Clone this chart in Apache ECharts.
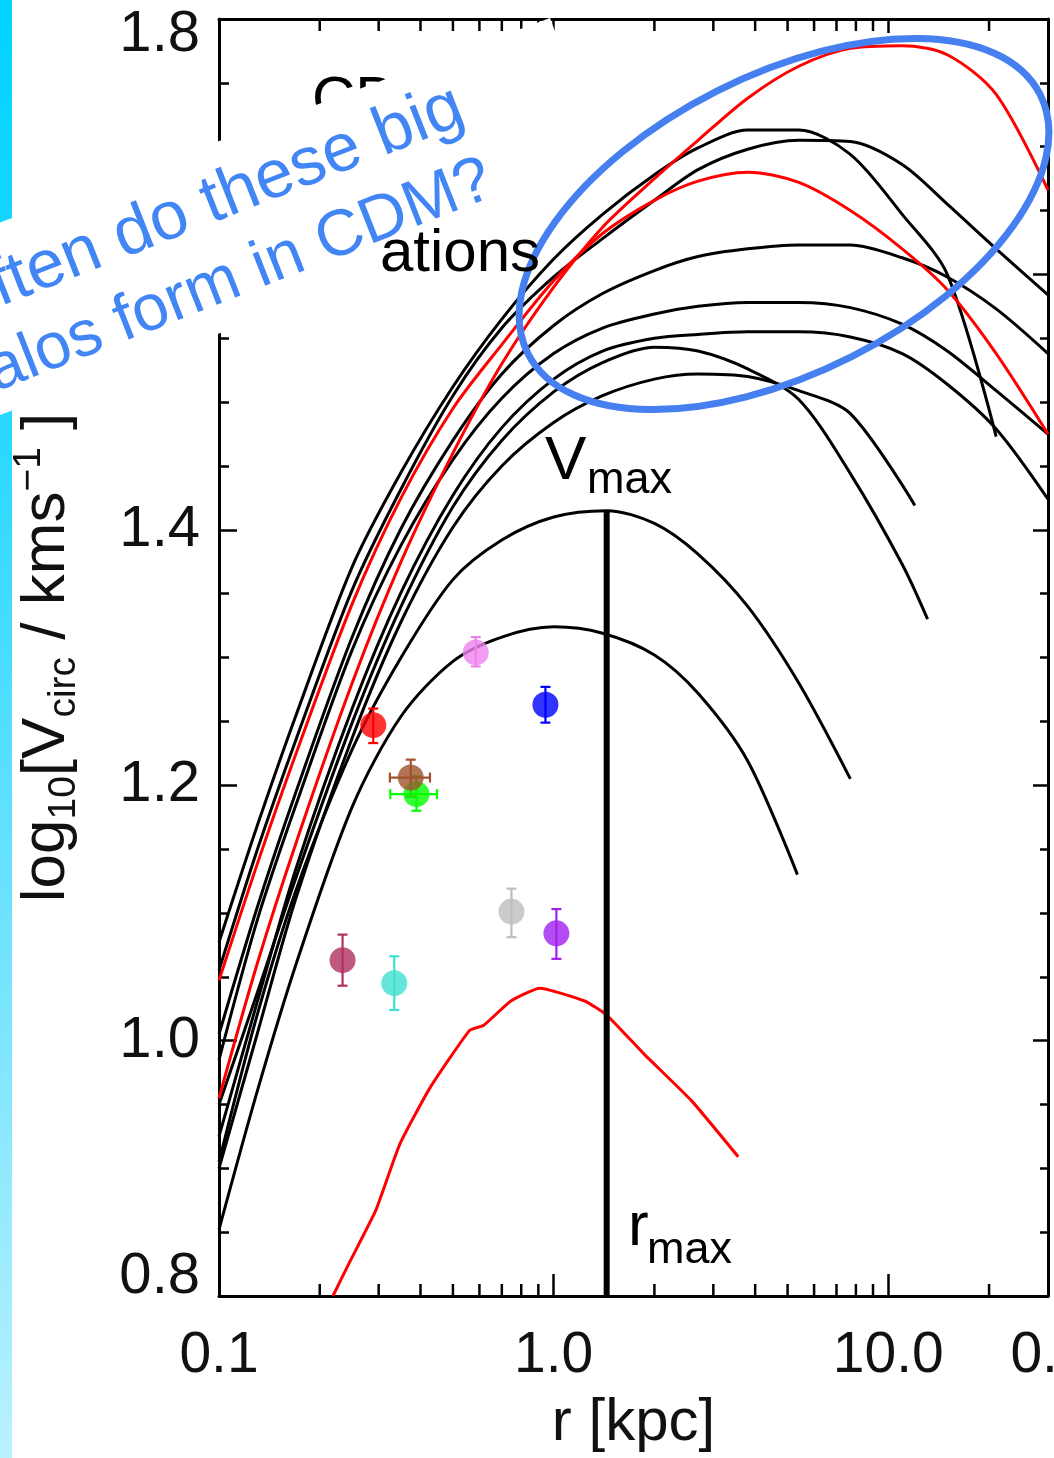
<!DOCTYPE html>
<html>
<head>
<meta charset="utf-8">
<script src="https://cdn.jsdelivr.net/npm/echarts@6/dist/echarts.min.js"></script>
<style>
  html, body { margin: 0; padding: 0; background: #fff; overflow: hidden; }
  #chart { width: 1054px; height: 1458px; }
</style>
</head>
<body>
<div id="chart"></div>
<script>
// Circular-velocity profiles of massive subhaloes: [r (kpc), log10 Vcirc (km/s)]
const haloK1 = [[0.1,1.077],[0.13,1.168],[0.17,1.255],[0.25,1.371],[0.35,1.445],[0.5,1.512],[0.7,1.565],[1.0,1.612],[1.4,1.647],[2.0,1.678],[2.7,1.699],[3.8,1.713],[5.4,1.713],[7.7,1.694],[11,1.647],[15,1.600],[21,1.473]];
const haloK2 = [[0.1,1.055],[0.13,1.149],[0.17,1.236],[0.25,1.353],[0.35,1.432],[0.5,1.505],[0.7,1.558],[1.0,1.598],[1.4,1.628],[2.0,1.658],[2.7,1.682],[3.8,1.698],[5.4,1.705],[7.7,1.704],[11,1.686],[15,1.655],[21,1.620],[30,1.584]];
const haloK3 = [[0.1,1.005],[0.13,1.104],[0.17,1.195],[0.25,1.316],[0.35,1.401],[0.5,1.470],[0.7,1.522],[1.0,1.560],[1.4,1.585],[2.0,1.603],[2.7,1.614],[3.8,1.620],[5.4,1.623],[7.7,1.623],[11,1.613],[15,1.598],[21,1.573],[30,1.538]];
const haloK4 = [[0.1,0.985],[0.13,1.094],[0.17,1.185],[0.25,1.306],[0.35,1.388],[0.5,1.455],[0.7,1.503],[1.0,1.538],[1.4,1.558],[2.0,1.569],[2.7,1.575],[3.8,1.578],[5.4,1.578],[7.7,1.574],[11,1.561],[15,1.540],[21,1.509],[30,1.475]];
const haloK5 = [[0.1,0.925],[0.13,1.030],[0.17,1.135],[0.25,1.260],[0.35,1.351],[0.5,1.427],[0.7,1.480],[1.0,1.518],[1.4,1.540],[2.0,1.550],[2.7,1.553],[3.8,1.555],[5.4,1.555],[7.7,1.551],[11,1.538],[15,1.514],[21,1.479],[30,1.424]];
const haloK6 = [[0.1,0.950],[0.13,1.037],[0.17,1.128],[0.25,1.249],[0.35,1.340],[0.5,1.418],[0.7,1.470],[1.0,1.508],[1.4,1.531],[2.0,1.543],[2.7,1.540],[3.8,1.526],[5.4,1.502],[7.7,1.444],[11,1.373],[13.1,1.330]];
const haloK7 = [[0.1,0.900],[0.13,1.005],[0.17,1.112],[0.25,1.237],[0.35,1.328],[0.5,1.402],[0.7,1.450],[1.0,1.484],[1.4,1.505],[2.0,1.518],[2.7,1.522],[3.8,1.520],[5.4,1.509],[7.7,1.491],[12,1.419]];
const haloB1 = [[0.1,0.905],[0.13,1.020],[0.17,1.118],[0.25,1.228],[0.35,1.300],[0.5,1.361],[0.7,1.392],[1.0,1.410],[1.44,1.415],[2.0,1.405],[2.7,1.381],[3.8,1.340],[5.4,1.280],[7.7,1.205]];
const haloB2 = [[0.1,0.852],[0.13,0.960],[0.17,1.060],[0.25,1.183],[0.35,1.254],[0.5,1.297],[0.7,1.316],[1.0,1.324],[1.4,1.319],[2.0,1.302],[2.7,1.272],[3.8,1.219],[5.35,1.130]];
const haloR1 = [[0.1,0.955],[0.13,1.060],[0.17,1.155],[0.25,1.280],[0.35,1.375],[0.5,1.460],[0.7,1.530],[1.0,1.590],[1.4,1.637],[2.0,1.675],[2.7,1.705],[3.8,1.738],[5.4,1.763],[7.7,1.777],[11,1.779],[15,1.772],[21,1.741],[30,1.666]];
const haloR2 = [[0.1,1.047],[0.13,1.138],[0.17,1.225],[0.25,1.342],[0.35,1.425],[0.5,1.495],[0.7,1.545],[1.0,1.595],[1.4,1.632],[2.0,1.658],[2.7,1.673],[3.8,1.680],[5.4,1.672],[7.7,1.650],[11,1.620],[15,1.588],[21,1.538],[30,1.475]];
const haloR3 = [[0.219,0.800],[0.244,0.825],[0.294,0.867],[0.347,0.919],[0.427,0.963],[0.561,1.008],[0.618,1.012],[0.745,1.031],[0.908,1.041],[1.237,1.031],[1.44,1.020],[1.87,0.989],[2.58,0.953],[3.56,0.909]];

const blackHaloes = [haloK1, haloK2, haloK3, haloK4, haloK5, haloK6, haloK7, haloB1, haloB2];
const redHaloes = [haloR1, haloR2, haloR3];

// Vmax / rmax of the marked halo
const markedRmax = 1.44;
const markedVmax = 1.415;

// Dwarf spheroidal measurements (half-light radius, log10 Vcirc, errors)
const dwarfR   = [0.234, 0.334, 0.289, 0.389, 0.374, 0.585, 0.945, 0.748, 1.019];
const dwarfV   = [1.063, 1.045, 1.247, 1.193, 1.206, 1.304, 1.263, 1.101, 1.084];
const dwarfVLo = [1.043, 1.024, 1.233, 1.180, 1.191, 1.293, 1.249, 1.081, 1.064];
const dwarfVHi = [1.083, 1.066, 1.260, 1.207, 1.220, 1.316, 1.277, 1.119, 1.103];
const dwarfRLo = [null, null, null, 0.325, 0.324, null, null, null, null];
const dwarfRHi = [null, null, null, 0.448, 0.427, null, null, null, null];
const dwarfColors = ['#b03060', '#40e0d0', '#ff0000', '#00ff00', '#a0522d', '#ee82ee', '#0000ff', '#bebebe', '#a020f0'];

// Axis settings
const rMin = 0.1, rMax = 30;
const vMin = 0.8, vMax = 1.8, vStep = 0.2;
const rLabelled = [0.1, 1, 10];
const rMinorTicks = [0.2,0.3,0.4,0.5,0.6,0.7,0.8,0.9,2,3,4,5,6,7,8,9,20];

const FONT = '"Liberation Sans", Arial, Helvetica, sans-serif';
const chart = echarts.init(document.getElementById('chart'), null, { renderer: 'canvas', width: 1054, height: 1458 });

const curveSeries = [];
blackHaloes.forEach(d => curveSeries.push({
  type: 'line', data: d, symbol: 'none', smooth: 0.3, silent: true, z: 2,
  lineStyle: { color: '#000', width: 3 }
}));
redHaloes.forEach((d, i) => curveSeries.push({
  type: 'line', data: d, symbol: 'none', smooth: i === 2 ? 0.15 : 0.3, silent: true, z: 2,
  lineStyle: { color: '#ff0000', width: 3 }
}));

const dwarfData = dwarfR.map((r, i) => ({
  value: [r, dwarfV[i], dwarfVLo[i], dwarfVHi[i], dwarfRLo[i] == null ? r : dwarfRLo[i], dwarfRHi[i] == null ? r : dwarfRHi[i]],
  itemStyle: { color: dwarfColors[i] }
}));

function isLabelled(v) {
  return rLabelled.some(t => Math.abs(Math.log10(v) - Math.log10(t)) < 1e-6);
}

const option = {
  animation: false,
  backgroundColor: '#fff',
  grid: { left: 219, right: 6, top: 19, bottom: 159, containLabel: false },
  xAxis: [
    {
      type: 'log', logBase: 10, min: rMin, max: rMax, position: 'bottom',
      axisLine: { lineStyle: { color: '#000', width: 3 } },
      axisTick: { inside: true, length: 22, lineStyle: { color: '#000', width: 2.5 } },
      splitLine: { show: false },
      axisLabel: {
        margin: 32, fontSize: 57, fontFamily: FONT, color: '#111',
        formatter: v => isLabelled(v) ? Number(v).toFixed(1) : ''
      },
      name: 'r [kpc]', nameLocation: 'middle', nameGap: 97,
      nameTextStyle: { fontSize: 60, fontFamily: FONT, color: '#111' }
    },
    {
      type: 'log', logBase: 10, min: rMin, max: rMax, position: 'top',
      axisLine: { lineStyle: { color: '#000', width: 3 } },
      axisTick: { inside: true, length: 14, lineStyle: { color: '#000', width: 2.5 } },
      splitLine: { show: false }, axisLabel: { show: false }
    }
  ],
  yAxis: [
    {
      type: 'value', min: vMin, max: vMax, interval: vStep, position: 'left',
      axisLine: { show: true, lineStyle: { color: '#000', width: 3 } },
      axisTick: { show: true, inside: true, length: 18, lineStyle: { color: '#000', width: 2.5 } },
      minorTick: { show: true, splitNumber: 4, length: 10, lineStyle: { color: '#000', width: 2.5 } },
      splitLine: { show: false }, minorSplitLine: { show: false },
      axisLabel: {
        margin: 19, fontSize: 58, fontFamily: FONT, color: '#111',
        formatter: v => {
          const s = v.toFixed(1);
          if (Math.abs(v - vMax) < 1e-6) return '{hi|' + s + '}';
          if (Math.abs(v - vMin) < 1e-6) return '{lo|' + s + '}';
          return s;
        },
        rich: {
          hi: { fontSize: 58, fontFamily: FONT, color: '#111', padding: [32, 0, 0, 0] },
          lo: { fontSize: 58, fontFamily: FONT, color: '#111', padding: [0, 0, 38, 0] }
        }
      },
      name: '{n|log}{s|10}{n|[V}{s|circ}{n| / kms}{p|\u22121}{n| ]}',
      nameLocation: 'middle', nameGap: 135, nameRotate: 90,
      nameTextStyle: {
        color: '#111', fontFamily: FONT,
        rich: {
          n: { fontSize: 62, fontFamily: FONT, color: '#111', lineHeight: 74 },
          s: { fontSize: 39, fontFamily: FONT, color: '#111', verticalAlign: 'bottom', lineHeight: 34 },
          p: { fontSize: 39, fontFamily: FONT, color: '#111', verticalAlign: 'top', lineHeight: 30 }
        }
      }
    },
    {
      type: 'value', min: vMin, max: vMax, interval: vStep, position: 'right',
      axisLine: { show: true, lineStyle: { color: '#000', width: 3 } },
      axisTick: { show: true, inside: true, length: 15, lineStyle: { color: '#000', width: 2.5 } },
      minorTick: { show: true, splitNumber: 4, length: 8, lineStyle: { color: '#000', width: 2.5 } },
      splitLine: { show: false }, axisLabel: { show: false }
    }
  ],
  series: [
    // minor decade ticks of the log axis, bottom and top
    {
      type: 'custom', silent: true, z: 0, clip: false,
      data: rMinorTicks.map(v => [v, vMin]),
      renderItem: (params, api) => {
        const pb = api.coord([api.value(0), vMin]);
        const pt = api.coord([api.value(0), vMax]);
        const st = { stroke: '#000', lineWidth: 2.5 };
        return { type: 'group', children: [
          { type: 'line', shape: { x1: pb[0], y1: pb[1], x2: pb[0], y2: pb[1] - 12 }, style: st },
          { type: 'line', shape: { x1: pt[0], y1: pt[1], x2: pt[0], y2: pt[1] + 12 }, style: st }
        ] };
      }
    },
    ...curveSeries,
    // rmax marker
    {
      type: 'line', data: [[markedRmax, vMin], [markedRmax, markedVmax]], symbol: 'none', silent: true, z: 3,
      lineStyle: { color: '#000', width: 6 }
    },
    // error bars
    {
      type: 'custom', silent: true, z: 3,
      data: dwarfData.map(d => d.value),
      renderItem: (params, api) => {
        const r = api.value(0), v = api.value(1);
        const lo = api.coord([r, api.value(2)]);
        const hi = api.coord([r, api.value(3)]);
        const color = dwarfColors[params.dataIndex];
        const st = { stroke: color, lineWidth: 2.2 };
        const cap = 5;
        const kids = [
          { type: 'line', shape: { x1: lo[0], y1: lo[1], x2: hi[0], y2: hi[1] }, style: st },
          { type: 'line', shape: { x1: lo[0] - cap, y1: lo[1], x2: lo[0] + cap, y2: lo[1] }, style: st },
          { type: 'line', shape: { x1: hi[0] - cap, y1: hi[1], x2: hi[0] + cap, y2: hi[1] }, style: st }
        ];
        const rl = api.value(4), rh = api.value(5);
        if (rh > rl) {
          const a = api.coord([rl, v]), b = api.coord([rh, v]);
          kids.push({ type: 'line', shape: { x1: a[0], y1: a[1], x2: b[0], y2: b[1] }, style: st });
          kids.push({ type: 'line', shape: { x1: a[0], y1: a[1] - cap, x2: a[0], y2: a[1] + cap }, style: st });
          kids.push({ type: 'line', shape: { x1: b[0], y1: b[1] - cap, x2: b[0], y2: b[1] + cap }, style: st });
        }
        return { type: 'group', children: kids };
      }
    },
    {
      type: 'scatter', data: dwarfData, symbol: 'circle', symbolSize: 26, silent: true, z: 4
    }
  ],
  graphic: [
    // slide accent bar
    {
      type: 'rect', z: 0, silent: true,
      shape: { x: 0, y: 0, width: 12, height: 1458 },
      style: { fill: new echarts.graphic.LinearGradient(0, 0, 0, 1, [
        { offset: 0, color: '#00d3ff' }, { offset: 0.3, color: '#2ad8ff' },
        { offset: 0.65, color: '#72e3fe' }, { offset: 1, color: '#b9f1ff' }
      ]) }
    },
    // slide title, partly hidden
    {
      type: 'text', z: 0, silent: true, x: 312, y: 101,
      style: { text: 'CDM', fontSize: 60, fontFamily: FONT, fill: '#000', align: 'left', verticalAlign: 'middle' }
    },
    // callout box
    {
      type: 'polygon', z: 1, silent: true,
      shape: { points: [[550, 18], [613, 187], [-137, 466], [-200, 297]] },
      style: { fill: '#fff' }
    },
    {
      type: 'text', z: 11, silent: true, x: 540, y: 254,
      style: { text: 'ations', fontSize: 60, fontFamily: FONT, fill: '#000', align: 'right', verticalAlign: 'middle' }
    },
    {
      type: 'text', z: 11, silent: true, x: 461, y: 105, rotation: 0.375,
      style: { text: 'How often do these big', fontSize: 68, fontFamily: FONT, fill: '#4285f4', align: 'right', verticalAlign: 'middle' }
    },
    {
      type: 'text', z: 11, silent: true, x: 490, y: 178, rotation: 0.375,
      style: { text: 'halos form in CDM?', fontSize: 65, fontFamily: FONT, fill: '#4285f4', align: 'right', verticalAlign: 'middle' }
    },
    {
      type: 'ellipse', z: 10, silent: true, x: 784, y: 224, rotation: 0.468,
      shape: { cx: 0, cy: 0, rx: 287, ry: 149 },
      style: { fill: 'none', stroke: '#4680f0', lineWidth: 7 }
    },
    // Vmax / rmax annotations
    { type: 'text', z: 11, silent: true, x: 545, y: 462,
      style: { text: 'V', fontSize: 62, fontFamily: FONT, fill: '#000', align: 'left', verticalAlign: 'middle' } },
    { type: 'text', z: 11, silent: true, x: 587, y: 481,
      style: { text: 'max', fontSize: 45, fontFamily: FONT, fill: '#000', align: 'left', verticalAlign: 'middle' } },
    { type: 'text', z: 11, silent: true, x: 628, y: 1228,
      style: { text: 'r', fontSize: 62, fontFamily: FONT, fill: '#000', align: 'left', verticalAlign: 'middle' } },
    { type: 'text', z: 11, silent: true, x: 647, y: 1251,
      style: { text: 'max', fontSize: 45, fontFamily: FONT, fill: '#000', align: 'left', verticalAlign: 'middle' } },
    // first tick label of the neighbouring panel
    { type: 'text', z: 11, silent: true, x: 1050, y: 1356,
      style: { text: '0.1', fontSize: 57, fontFamily: FONT, fill: '#111', align: 'center', verticalAlign: 'middle' } }
  ]
};

chart.setOption(option);
</script>
</body>
</html>
